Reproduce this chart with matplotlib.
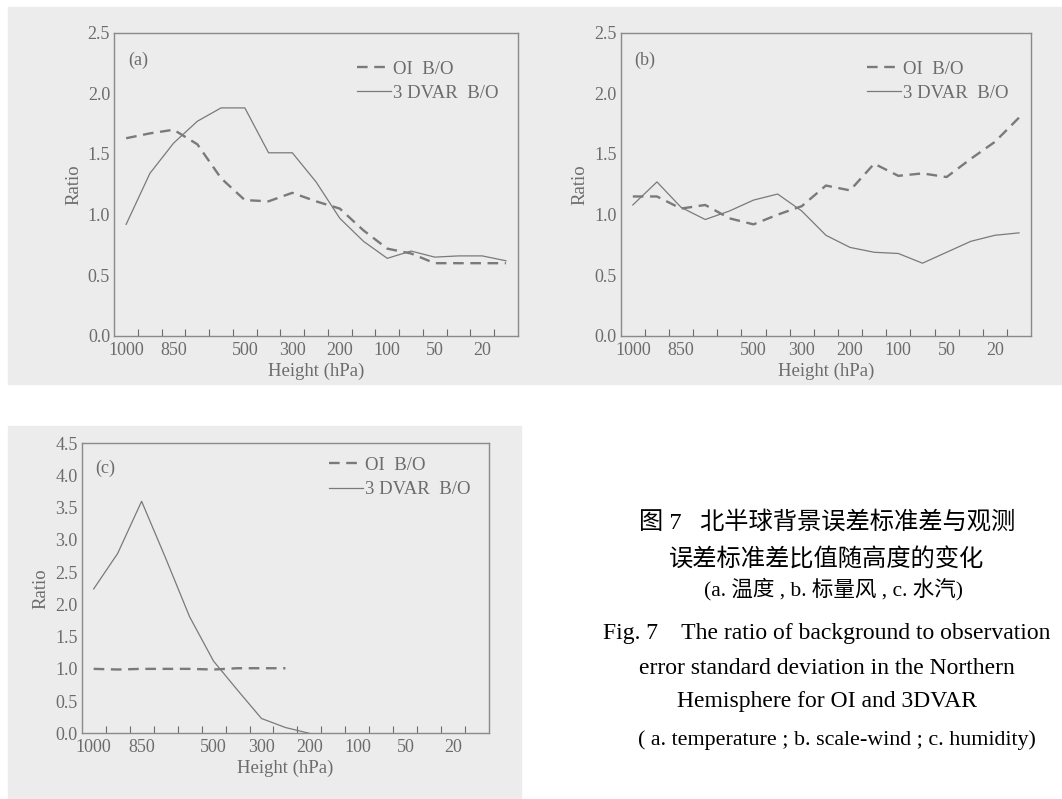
import matplotlib
matplotlib.use("Agg")
import matplotlib.pyplot as plt
from matplotlib.patches import Rectangle
from matplotlib.ticker import FixedLocator

# Pressure levels of the profiles (hPa), one point per level
levels = [1000, 925, 850, 700, 600, 500, 400, 300, 250, 200, 150, 100, 70, 50, 30, 20, 10]
tick_levels = [1000, 850, 500, 300, 200, 100, 50, 20]

# (a) temperature
temp_oi = [1.63, 1.67, 1.70, 1.58, 1.30, 1.12, 1.11, 1.18, 1.11, 1.05, 0.87, 0.72, 0.68, 0.60, 0.60, 0.60, 0.60]
temp_3dvar = [0.92, 1.34, 1.59, 1.77, 1.88, 1.88, 1.51, 1.51, 1.27, 0.97, 0.78, 0.64, 0.70, 0.65, 0.66, 0.66, 0.62]

# (b) scalar wind
wind_oi = [1.15, 1.15, 1.05, 1.08, 0.97, 0.92, 1.00, 1.07, 1.24, 1.20, 1.42, 1.32, 1.34, 1.31, 1.46, 1.60, 1.80]
wind_3dvar = [1.08, 1.27, 1.06, 0.96, 1.03, 1.12, 1.17, 1.03, 0.83, 0.73, 0.69, 0.68, 0.60, 0.69, 0.78, 0.83, 0.85]

# (c) humidity, only up to 250/200 hPa
hum_oi = [1.00, 0.99, 1.00, 1.00, 1.00, 0.99, 1.01, 1.01, 1.01]
hum_3dvar = [2.24, 2.79, 3.60, 2.72, 1.81, 1.12, 0.67, 0.23, 0.09, 0.0]

BG = "#ececec"
INK = "#6c6c6c"
LINE = "#7a7a7a"
SERIF = "Liberation Serif"

plt.rcParams["font.family"] = SERIF

fig = plt.figure(figsize=(10.62, 7.99), dpi=100)

# grey page patches behind the panels
fig.patches.append(Rectangle((8 / 1062, 1 - 384 / 799), 1 - 8 / 1062, 377 / 799,
                             transform=fig.transFigure, color=BG, zorder=-10))
fig.patches.append(Rectangle((8 / 1062, 0), 513 / 1062, 1 - 426 / 799,
                             transform=fig.transFigure, color=BG, zorder=-10))


def panel(rect, oi, dvar, ymax, tag, tag_y, leg_xy):
    ax = fig.add_axes(rect, facecolor=BG)
    x_oi = [i + 0.5 for i in range(len(oi))]
    x_dv = [i + 0.5 for i in range(len(dvar))]
    ax.plot(x_oi, oi, color=LINE, lw=1.7, dashes=(4.5, 2.8), label="OI  B/O")
    ax.plot(x_dv, dvar, color=LINE, lw=0.9, label="3 DVAR  B/O")
    ax.set_xlim(0, len(levels))
    ax.set_ylim(0, ymax)

    # tick marks between levels, labels on selected levels
    ax.xaxis.set_minor_locator(FixedLocator(range(1, len(levels))))
    ax.set_xticks([levels.index(p) + 0.5 for p in tick_levels])
    ax.set_xticklabels([str(p) for p in tick_levels])
    ax.set_yticks([k * 0.5 for k in range(int(ymax / 0.5) + 1)])
    ax.set_yticklabels([f"{k * 0.5:.1f}" for k in range(int(ymax / 0.5) + 1)])
    ax.tick_params(axis="x", which="minor", direction="in", length=5, width=0.8, color=INK)
    ax.tick_params(axis="x", which="major", length=0, pad=4, labelsize=13, labelcolor=INK)
    ax.tick_params(axis="y", length=0, pad=3, labelsize=13, labelcolor=INK)
    for s in ax.spines.values():
        s.set_color("#8a8a8a")
        s.set_linewidth(1.0)

    ax.set_xlabel("Height (hPa)", fontsize=13.5, color=INK, labelpad=3)
    ax.set_ylabel("Ratio", fontsize=13.5, color=INK, labelpad=4)
    ax.text(0.034, tag_y, tag, transform=ax.transAxes, fontsize=13,
            color=INK, va="center")
    leg = ax.legend(loc="upper right", bbox_to_anchor=leg_xy, frameon=False,
                    fontsize=13.5, handlelength=1.8, handletextpad=0.1, labelspacing=0.38,
                    borderaxespad=0, borderpad=0)
    for t in leg.get_texts():
        t.set_color(INK)
    return ax


panel([0.1076, 0.5795, 0.3800, 0.3796], temp_oi, temp_3dvar, 2.5, "(a)", 0.91, (0.951, 0.908))
panel([0.5845, 0.5795, 0.3864, 0.3796], wind_oi, wind_3dvar, 2.5, "(b)", 0.91, (0.944, 0.908))
panel([0.0769, 0.0822, 0.3838, 0.3630], hum_oi, hum_3dvar, 4.5, "(c)", 0.915, (0.953, 0.953))

# figure caption
cjk = [SERIF, "Noto Sans CJK SC"]
cx = 827 / 1062
fig.text(cx, 1 - 522 / 799, "图 7   北半球背景误差标准差与观测", family=cjk,
         fontsize=17.5, weight="medium", ha="center", va="center", color="black")
fig.text(cx, 1 - 560 / 799, "误差标准差比值随高度的变化", family=cjk,
         fontsize=17.5, weight="medium", ha="center", va="center", color="black")
fig.text(834 / 1062, 1 - 589 / 799, "(a. 温度 , b. 标量风 , c. 水汽)", family=cjk,
         fontsize=15.5, weight="medium", ha="center", va="center", color="black")
fig.text(cx, 1 - 633 / 799, "Fig. 7    The ratio of background to observation",
         fontsize=17, ha="center", va="center", color="black")
fig.text(cx, 1 - 668 / 799, "error standard deviation in the Northern",
         fontsize=17, ha="center", va="center", color="black")
fig.text(cx, 1 - 701 / 799, "Hemisphere for OI and 3DVAR",
         fontsize=17, ha="center", va="center", color="black")
fig.text(837 / 1062, 1 - 740 / 799, "( a. temperature ; b. scale-wind ; c. humidity)",
         fontsize=15.8, ha="center", va="center", color="black")

fig.savefig("out.png", dpi=100, facecolor="white")
